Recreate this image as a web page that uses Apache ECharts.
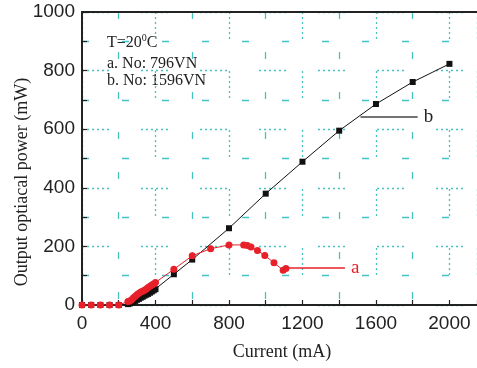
<!DOCTYPE html>
<html>
<head>
<meta charset="utf-8">
<script src="https://cdn.jsdelivr.net/npm/echarts@6/dist/echarts.min.js"></script>
<style>
html,body{margin:0;padding:0;background:#fff;}
#c{width:477px;height:368px;}
</style>
</head>
<body>
<div id="c"></div>
<script>
// Series a (No: 796VN) - red circles
const currentA = [0,50,100,150,200,250,260,270,280,290,300,310,320,330,340,350,360,370,380,390,400,500,600,700,800,880,900,920,955,995,1045,1095,1110];
const powerA   = [0,0,0,0,0,12,14,18,25,30,36,40,44,47,50,55,60,64,68,72,77,122,168,192,205,205,203,198,186,169,144,119,125];
// Series b (No: 1596VN) - black squares
const currentB = [0,50,100,150,200,250,260,270,280,290,300,310,320,330,340,350,360,370,380,390,400,500,600,800,1000,1200,1400,1600,1800,2000];
const powerB   = [0,0,0,0,0,3,5,8,11,14,18,21,25,28,32,35,38,42,46,50,54,105,155,262,380,489,595,686,761,823];
// tick values
const xTicks = [0,400,800,1200,1600,2000];
const yTicks = [0,200,400,600,800,1000];
// annotations (data coordinates of leader lines)
const leaderA = [[1116,126],[1431,126]];
const leaderB = [[1516,642],[1827,642]];
const noteLines = ['T=20{sup|0}C','a. No: 796VN','b. No: 1596VN'];

const cyan = '#47c2c2';
const majorDash = [2,3,2,3,2,3,2,3,2,3,2,32];
const minorDash = [7,33];

const chart = echarts.init(document.getElementById('c'), null, {renderer:'canvas'});
const seriesA = currentA.map((c,i)=>[c,powerA[i]]);
const seriesB = currentB.map((c,i)=>[c,powerB[i]]);

chart.setOption({
  animation:false,
  backgroundColor:'#fff',
  grid:{left:82,top:12,bottom:63,right:0,containLabel:false},
  xAxis:[{
    type:'value',min:0,max:2150,interval:400,
    axisLine:{show:true,onZero:false,lineStyle:{color:'#222',width:2}},
    axisTick:{show:true,inside:true,length:5,lineStyle:{color:'#222',width:1.2}},
    minorTick:{show:true,splitNumber:2,length:5,lineStyle:{color:'#222',width:1.2}},
    axisLabel:{margin:9,fontFamily:'Liberation Sans',fontSize:19,color:'#222',showMaxLabel:false,
      formatter:v=>xTicks.indexOf(v)>=0?String(v):''},
    splitLine:{show:true,lineStyle:{color:cyan,width:1.3,type:majorDash}},
    minorSplitLine:{show:true,lineStyle:{color:cyan,width:1.3,type:minorDash}}
  },{
    type:'value',position:'top',min:0,max:2150,
    axisLine:{show:true,onZero:false,lineStyle:{color:'#222',width:2}},
    axisTick:{show:false},axisLabel:{show:false},splitLine:{show:false}
  }],
  yAxis:[{
    type:'value',min:0,max:1000,interval:200,
    axisLine:{show:true,onZero:false,lineStyle:{color:'#222',width:2}},
    axisTick:{show:true,inside:true,length:5,lineStyle:{color:'#222',width:1.2}},
    minorTick:{show:true,splitNumber:2,length:5,lineStyle:{color:'#222',width:1.2}},
    axisLabel:{margin:7,fontFamily:'Liberation Sans',fontSize:19,color:'#222',
      formatter:v=>yTicks.indexOf(v)>=0?String(v):''},
    splitLine:{show:true,lineStyle:{color:cyan,width:1.3,type:majorDash}},
    minorSplitLine:{show:true,lineStyle:{color:cyan,width:1.3,type:minorDash}}
  }],
  graphic:[
    {type:'text',rotation:Math.PI/2,position:[22,182],
      style:{text:'Output optiacal power (mW)',font:'18px "Liberation Serif"',fill:'#222',
      textAlign:'center',textVerticalAlign:'middle'}},
    {type:'text',position:[282,352],
      style:{text:'Current (mA)',font:'18px "Liberation Serif"',fill:'#222',
      textAlign:'center',textVerticalAlign:'middle'}},
    {type:'text',position:[107,43],style:{text:noteLines[0],font:'16px "Liberation Serif"',fill:'#222',
      textVerticalAlign:'middle',rich:{sup:{fontSize:10,verticalAlign:'top',padding:[0,0,10,0],fontFamily:'Liberation Serif'}}}},
    {type:'text',position:[107,64],style:{text:noteLines[1],font:'16px "Liberation Serif"',fill:'#222',textVerticalAlign:'middle'}},
    {type:'text',position:[107,81],style:{text:noteLines[2],font:'16px "Liberation Serif"',fill:'#222',textVerticalAlign:'middle'}}
  ],
  series:[
    {type:'line',name:'b',data:seriesB,symbol:'rect',symbolSize:6,showSymbol:true,
      lineStyle:{color:'#111',width:1},itemStyle:{color:'#111'},z:2,
      markLine:{silent:true,symbol:['none','none'],
        lineStyle:{color:'#444',width:1.5,type:'solid'},
        label:{show:true,position:'end',formatter:'b',distance:6,fontFamily:'Liberation Serif',fontSize:19,color:'#222'},
        data:[[{coord:leaderB[0]},{coord:leaderB[1]}]]}},
    {type:'line',name:'a',data:seriesA,symbol:'circle',symbolSize:7,showSymbol:true,
      lineStyle:{color:'#e8202a',width:1},itemStyle:{color:'#e8202a'},z:3,
      markLine:{silent:true,symbol:['none','none'],
        lineStyle:{color:'#e8202a',width:1.5,type:'solid'},
        label:{show:true,position:'end',formatter:'a',distance:6,fontFamily:'Liberation Serif',fontSize:19,color:'#e8202a'},
        data:[[{coord:leaderA[0]},{coord:leaderA[1]}]]}}
  ]
});
</script>
</body>
</html>
